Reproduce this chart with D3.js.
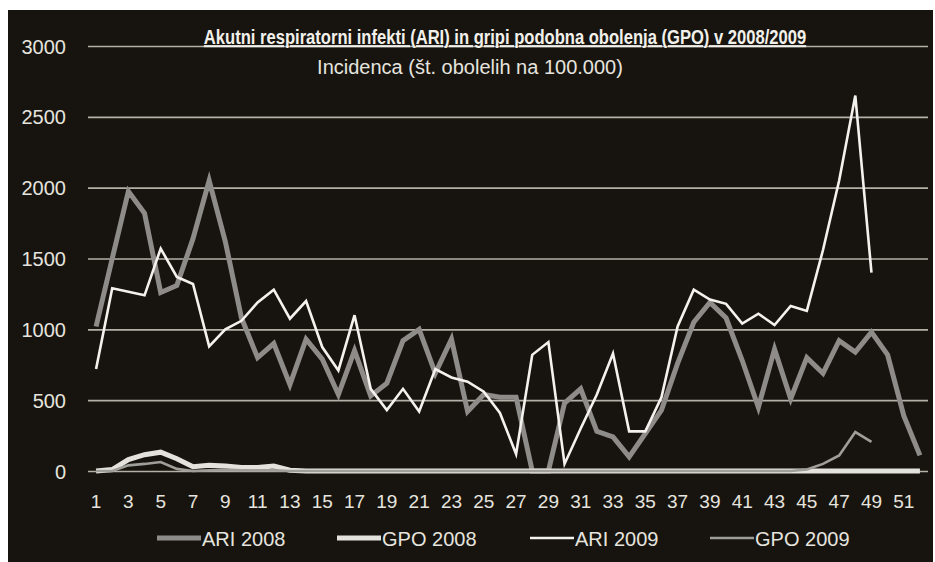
<!DOCTYPE html>
<html lang="sl">
<head>
<meta charset="UTF-8">
<title>ARI / GPO 2008/2009</title>
<script src="https://d3js.org/d3.v7.min.js"></script>
<style>
body { margin: 0; background: #fff; }
svg { display: block; }
.tick text { fill: #e6e4df; font-family: "Liberation Sans", Arial, sans-serif; }
.domain { display: none; }
</style>
</head>
<body>
<svg id="chart" width="935" height="562"></svg>
<script>

// podatki (incidenca na 100.000)
const weeks = d3.range(1, 53);
const xTickLabels = [1, 3, 5, 7, 9, 11, 13, 15, 17, 19, 21, 23, 25, 27, 29, 31, 33, 35, 37, 39, 41, 43, 45, 47, 49, 51];
const yTickLabels = [0, 500, 1000, 1500, 2000, 2500, 3000];

const ari2008 = [1020, 1500, 1975, 1820, 1260, 1310, 1640, 2050, 1620, 1080,
    800, 900, 610, 930, 790, 540, 850, 530, 620, 920,
    1000, 690, 930, 420, 540, 520, 520, 0, 0, 480,
    580, 280, 240, 100, 265, 430, 760, 1050, 1190, 1080,
    780, 450, 860, 510, 800, 690, 920, 840, 980, 820,
    390, 110];
const gpo2008 = [0, 10, 80, 115, 133, 87, 30, 40, 35, 25,
    25, 35, 5, 0, 0, 0, 0, 0, 0, 0,
    0, 0, 0, 0, 0, 0, 0, 0, 0, 0,
    0, 0, 0, 0, 0, 0, 0, 0, 0, 0,
    0, 0, 0, 0, 0, 0, 0, 0, 0, 0,
    0, 0];
const ari2009 = [720, 1290, 1265, 1240, 1570, 1370, 1320, 880, 1000, 1060,
    1190, 1280, 1075, 1200, 875, 710, 1100, 580, 430, 580,
    420, 720, 660, 630, 560, 410, 120, 820, 910, 50,
    300, 540, 830, 280, 280, 520, 1020, 1280, 1210, 1180,
    1040, 1110, 1030, 1165, 1130, 1560, 2050, 2650, 1400];
const gpo2009 = [0, 0, 40, 50, 63, 15, 0, 5, 10, 5,
    5, 5, 0, 0, 0, 0, 0, 0, 0, 0,
    0, 0, 0, 0, 0, 0, 0, 0, 0, 0,
    0, 0, 0, 0, 0, 0, 0, 0, 0, 0,
    0, 0, 0, 0, 10, 50, 110, 275, 205];

const seriesNames = ["ARI 2008", "GPO 2008", "ARI 2009", "GPO 2009"];

const width = 935;
const height = 562;

const svg = d3.select("#chart");

// temno ozadje grafa
svg.append("rect")
    .attr("x", 8).attr("y", 10)
    .attr("width", width - 10).attr("height", height - 10)
    .attr("fill", "#17140f");

const x = d3.scaleBand().domain(weeks).range([88, 928]).padding(0);
const y = d3.scaleLinear().domain([0, 3000]).range([471, 46]);
const cx = w => x(w) + x.bandwidth() / 2;

// mreža + y os
const yAxis = svg.append("g")
    .attr("transform", "translate(88,0)")
    .call(d3.axisLeft(y).tickValues(yTickLabels).tickFormat(d3.format("d")).tickSize(-840).tickPadding(22));
yAxis.selectAll(".tick line")
    .attr("stroke", "#b4b0a8")
    .attr("stroke-width", 1.6);
yAxis.selectAll(".tick text")
    .attr("font-size", "20px")
    .attr("dy", "0.35em");

// x os
const xAxis = svg.append("g")
    .attr("transform", "translate(0,471)")
    .call(d3.axisBottom(x).tickValues(xTickLabels).tickSize(0).tickPadding(24));
xAxis.selectAll(".tick text")
    .attr("font-size", "19px");

// črte
const line = d3.line()
    .x((d, i) => cx(weeks[i]))
    .y(d => y(d));

const styles = [
    { data: ari2008, color: "#8e8c88", w: 5 },
    { data: gpo2008, color: "#e4e2dc", w: 5 },
    { data: ari2009, color: "#f4f2ee", w: 2.6 },
    { data: gpo2009, color: "#a09e99", w: 2.6 }
];

svg.append("g").selectAll("path")
    .data(styles)
    .join("path")
    .attr("d", d => line(d.data))
    .attr("fill", "none")
    .attr("stroke", d => d.color)
    .attr("stroke-width", d => d.w)
    .attr("stroke-linejoin", "miter")
    .attr("stroke-linecap", "butt");

// naslov (ozka pisava -> stisnjen po širini)
svg.append("text")
    .attr("transform", "translate(505,44) scale(0.79,1)")
    .attr("text-anchor", "middle")
    .attr("font-family", "'Liberation Sans', Arial, sans-serif")
    .attr("font-weight", "bold")
    .attr("font-size", "21px")
    .attr("fill", "#f2f0ea")
    .attr("text-decoration", "underline")
    .text("Akutni respiratorni infekti (ARI) in gripi podobna obolenja (GPO) v  2008/2009");

svg.append("text")
    .attr("x", 470).attr("y", 74)
    .attr("text-anchor", "middle")
    .attr("font-family", "'Liberation Sans', Arial, sans-serif")
    .attr("font-size", "20px")
    .attr("fill", "#e6e4df")
    .text("Incidenca (št. obolelih na 100.000)");

// legenda
const legendX = [157, 337, 530, 710];
const legend = svg.append("g").selectAll("g")
    .data(styles)
    .join("g")
    .attr("transform", (d, i) => `translate(${legendX[i]},538)`);
legend.append("line")
    .attr("x1", 0).attr("x2", 44)
    .attr("stroke", d => d.color)
    .attr("stroke-width", d => d.w);
legend.append("text")
    .attr("x", 45).attr("y", 8)
    .attr("font-family", "'Liberation Sans', Arial, sans-serif")
    .attr("font-size", "20px")
    .attr("fill", "#e6e4df")
    .text((d, i) => seriesNames[i]);

</script>
</body>
</html>
